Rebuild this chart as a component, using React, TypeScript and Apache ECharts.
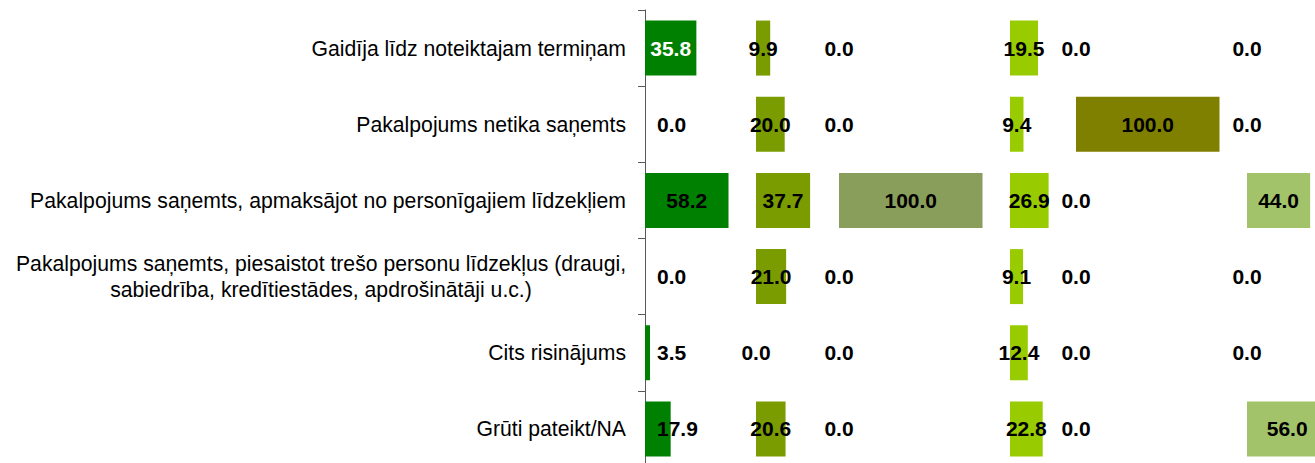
import React, { useEffect, useRef } from 'react';
import * as echarts from 'echarts';

const categories = [
  'Gaidīja līdz noteiktajam termiņam',
  'Pakalpojums netika saņemts',
  'Pakalpojums saņemts, apmaksājot no personīgajiem līdzekļiem',
  'Pakalpojums saņemts, piesaistot trešo personu līdzekļus (draugi,\nsabiedrība, kredītiestādes, apdrošinātāji u.c.)',
  'Cits risinājums',
  'Grūti pateikt/NA',
];

const panel1 = [35.8, 0.0, 58.2, 0.0, 3.5, 17.9];
const panel2 = [9.9, 20.0, 37.7, 21.0, 0.0, 20.6];
const panel3 = [0.0, 0.0, 100.0, 0.0, 0.0, 0.0];
const panel4 = [19.5, 9.4, 26.9, 9.1, 12.4, 22.8];
const panel5 = [0.0, 100.0, 0.0, 0.0, 0.0, 0.0];
const panel6 = [0.0, 0.0, 44.0, 0.0, 0.0, 56.0];

const panels = [panel1, panel2, panel3, panel4, panel5, panel6];

// layout / style constants
const PANEL_LEFT = [645, 756, 839, 1010, 1076, 1247];
const PANEL_WIDTH = 143.5; // pixels for 0..100
const PANEL_COLORS = ['#008000', '#7A9C00', '#8A9E5B', '#99CC00', '#808000', '#A3C36A'];
const FONT = 'Arial, "Liberation Sans", sans-serif';
const GRID_TOP = 10;
const GRID_HEIGHT = 457;
const CAT_FONT_SIZE = 21.2;

export default function App() {
  const ref = useRef<HTMLDivElement>(null);

  useEffect(() => {
    if (!ref.current) return;
    const chart = echarts.init(ref.current, undefined, { renderer: 'svg' });

    const grids = panels.map((_, i) => ({
      left: PANEL_LEFT[i],
      top: GRID_TOP,
      width: PANEL_WIDTH,
      height: GRID_HEIGHT,
      containLabel: false,
      outerBoundsMode: 'none',
    }));

    const xAxes = panels.map((_, i) => ({
      type: 'value',
      gridIndex: i,
      min: 0,
      max: 100,
      show: false,
    }));

    const yAxes = panels.map((_, i) => ({
      type: 'category',
      gridIndex: i,
      data: categories,
      inverse: true,
      show: i === 0,
      axisLine: { show: i === 0, lineStyle: { color: '#595959', width: 1 } },
      axisTick: { show: i === 0, length: 7, lineStyle: { color: '#595959' } },
      splitLine: { show: false },
      axisLabel: {
        show: i === 0,
        interval: 0,
        margin: 19,
        fontFamily: FONT,
        fontSize: CAT_FONT_SIZE,
        color: '#000',
        lineHeight: 26,
        formatter: (v: string) => {
          if (v.indexOf('\n') >= 0) {
            return v
              .split('\n')
              .map((l) => '{c|' + l + '}')
              .join('\n');
          }
          return v;
        },
        rich: {
          c: {
            align: 'center',
            fontFamily: FONT,
            fontSize: CAT_FONT_SIZE,
            color: '#000',
            lineHeight: 26,
          },
        },
      },
    }));

    const series = panels.map((vals, i) => ({
      type: 'bar',
      xAxisIndex: i,
      yAxisIndex: i,
      barWidth: 55,
      itemStyle: { color: PANEL_COLORS[i] },
      label: {
        show: true,
        position: 'inside',
        formatter: (p: any) => Number(p.value).toFixed(1),
        fontFamily: FONT,
        fontSize: 21,
        fontWeight: 'bold',
        color: '#000',
        textBorderWidth: 0,
      },
      data: vals.map((v, j) => {
        const item: any = { value: v };
        const lbl: any = {};
        if (i === 0 && (v * PANEL_WIDTH) / 100 / 2 < 20) {
          lbl.position = 'insideLeft';
          lbl.distance = 12;
        }
        if (i === 0 && j === 0) lbl.color = '#fff';
        if (Object.keys(lbl).length) item.label = lbl;
        return item;
      }),
    }));

    chart.setOption({
      animation: false,
      backgroundColor: '#fff',
      grid: grids,
      xAxis: xAxes,
      yAxis: yAxes,
      series,
    } as any);

    return () => chart.dispose();
  }, []);

  return (
    <div
      style={{
        position: 'fixed',
        left: 0,
        top: 0,
        width: 1315,
        height: 463,
        overflow: 'hidden',
        background: '#fff',
      }}
    >
      <div ref={ref} style={{ width: 1400, height: 480 }} />
    </div>
  );
}
